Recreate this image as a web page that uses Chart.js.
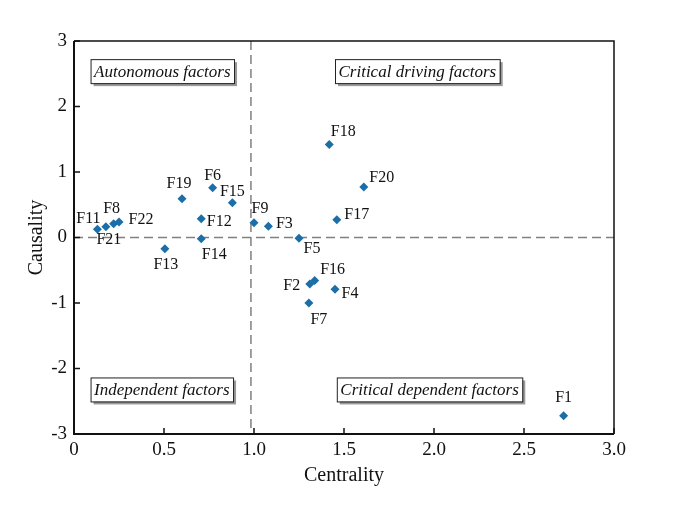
<!DOCTYPE html>
<html><head><meta charset="utf-8">
<script src="https://cdn.jsdelivr.net/npm/chart.js@4"></script>
<style>html,body{margin:0;padding:0;background:#fff}#wrap{width:685px;height:518px}</style>
</head><body><div id="wrap"><canvas id="c" width="685" height="518"></canvas></div>
<script>
// ---- data ----
const factors    = ['F1','F2','F3','F4','F5','F6','F7','F8','F9','F11','F12','F13','F14','F15','F16','F17','F18','F19','F20','F21','F22'];
const centrality = [2.72, 1.31, 1.08, 1.45, 1.25, 0.77, 1.305, 0.22, 1.00, 0.13, 0.707, 0.505, 0.707, 0.88, 1.337, 1.46, 1.418, 0.60, 1.61, 0.177, 0.25];
const causality  = [-2.72, -0.71, 0.17, -0.79, -0.01, 0.76, -1.00, 0.21, 0.225, 0.125, 0.285, -0.17, -0.02, 0.53, -0.655, 0.27, 1.42, 0.59, 0.77, 0.165, 0.235];
const xTicks = [0, 0.5, 1.0, 1.5, 2.0, 2.5, 3.0];
const yTicks = [-3, -2, -1, 0, 1, 2, 3];
const thresholdX = 0.983;
const thresholdY = 0;
const quadrantNames = ['Autonomous factors', 'Critical driving factors', 'Independent factors', 'Critical dependent factors'];
const quadrantAnchorX = [0.092, 1.45, 0.092, 1.46];
const quadrantAnchorY = [2.54, 2.54, -2.32, -2.32];

// ---- label layout (pixel offsets of each point's text) ----
const labelOffset = {
  F1:[0,-18], F2:[-18,2], F3:[16,-3], F4:[15,5], F5:[13,11], F6:[0,-12], F7:[10,17],
  F8:[-2,-15], F9:[6,-14], F11:[-9,-11], F12:[18,3], F13:[1,16], F14:[13,16],
  F15:[0,-11], F16:[18,-11], F17:[20,-5], F18:[14,-13], F19:[-3,-15], F20:[18,-9],
  F21:[3,13], F22:[22,-2]
};

const SERIF = '"Liberation Serif","Times New Roman",serif';
const points = centrality.map((x, i) => ({x, y: causality[i]}));

const decor = {
  id: 'decor',
  beforeDatasetsDraw(chart) {
    const {ctx, chartArea: a, scales: {x, y}} = chart;
    ctx.save();
    ctx.strokeStyle = '#808080';
    ctx.lineWidth = 1.5;
    ctx.setLineDash([9, 5]);
    const px = x.getPixelForValue(thresholdX), py = y.getPixelForValue(thresholdY);
    ctx.beginPath(); ctx.moveTo(a.left, py); ctx.lineTo(a.right, py); ctx.stroke();
    ctx.beginPath(); ctx.moveTo(px, a.top); ctx.lineTo(px, a.bottom); ctx.stroke();
    ctx.setLineDash([]);
    // quadrant boxes
    ctx.font = 'italic 17px ' + SERIF;
    ctx.textBaseline = 'middle';
    ctx.textAlign = 'left';
    quadrantNames.forEach((t, i) => {
      const bx = x.getPixelForValue(quadrantAnchorX[i]);
      const cy = y.getPixelForValue(quadrantAnchorY[i]);
      const w = ctx.measureText(t).width + 7, h = 24;
      ctx.fillStyle = '#999';
      ctx.fillRect(bx + 3, cy - h/2 + 3, w, h);
      ctx.fillStyle = '#fff';
      ctx.fillRect(bx, cy - h/2, w, h);
      ctx.strokeStyle = '#222'; ctx.lineWidth = 1;
      ctx.strokeRect(bx + 0.5, cy - h/2 + 0.5, w, h);
      ctx.fillStyle = '#111';
      ctx.fillText(t, bx + 3.5, cy + 1);
    });
    ctx.restore();
  },
  afterDraw(chart) {
    const {ctx, chartArea: a, scales: {x, y}} = chart;
    ctx.save();
    // frame
    ctx.strokeStyle = '#111';
    ctx.lineWidth = 1.5;
    ctx.beginPath(); ctx.moveTo(a.left, a.top); ctx.lineTo(a.right, a.top); ctx.lineTo(a.right, a.bottom); ctx.stroke();
    ctx.lineWidth = 2;
    ctx.beginPath(); ctx.moveTo(a.left, a.top); ctx.lineTo(a.left, a.bottom); ctx.lineTo(a.right, a.bottom); ctx.stroke();
    // inner ticks
    ctx.lineWidth = 1.5;
    xTicks.forEach(v => { const p = x.getPixelForValue(v); ctx.beginPath(); ctx.moveTo(p, a.bottom); ctx.lineTo(p, a.bottom - 6); ctx.stroke(); });
    yTicks.forEach(v => { const p = y.getPixelForValue(v); ctx.beginPath(); ctx.moveTo(a.left, p); ctx.lineTo(a.left + 6, p); ctx.stroke(); });
    // point labels
    ctx.font = '16px ' + SERIF;
    ctx.fillStyle = '#111';
    ctx.textAlign = 'center'; ctx.textBaseline = 'middle';
    factors.forEach((f, i) => {
      const o = labelOffset[f] || [0, -12];
      ctx.fillText(f, x.getPixelForValue(centrality[i]) + o[0], y.getPixelForValue(causality[i]) + o[1]);
    });
    // axis titles
    ctx.font = '20px ' + SERIF;
    ctx.fillText('Centrality', (a.left + a.right) / 2, 476);
    ctx.translate(37, (a.top + a.bottom) / 2);
    ctx.rotate(-Math.PI / 2);
    ctx.fillText('Causality', 0, 0);
    ctx.restore();
  }
};

new Chart(document.getElementById('c'), {
  type: 'scatter',
  data: { datasets: [{
    data: points,
    pointStyle: 'rectRot',
    pointRadius: 4.5,
    backgroundColor: '#1b6ea8',
    borderColor: '#1b6ea8',
    borderWidth: 0
  }]},
  options: {
    responsive: false, animation: false, devicePixelRatio: 1,
    layout: { padding: { left: 0, right: 71, top: 41, bottom: 0 } },
    plugins: { legend: { display: false }, tooltip: { enabled: false } },
    scales: {
      x: {
        type: 'linear', min: 0, max: 3,
        afterBuildTicks: s => { s.ticks = xTicks.map(v => ({value: v})); },
        afterFit: s => { s.height = 84; },
        grid: { display: false, drawTicks: false }, border: { display: false },
        ticks: { color: '#111', padding: 5, font: { family: SERIF, size: 19 },
                 callback: v => v === 0 ? '0' : Number(v).toFixed(1) }
      },
      y: {
        type: 'linear', min: -3, max: 3,
        afterBuildTicks: s => { s.ticks = yTicks.map(v => ({value: v})); },
        afterFit: s => { s.width = 74; },
        grid: { display: false, drawTicks: false }, border: { display: false },
        ticks: { color: '#111', padding: 7, font: { family: SERIF, size: 19 },
                 callback: v => String(v) }
      }
    }
  },
  plugins: [decor]
});
</script>
</body></html>
